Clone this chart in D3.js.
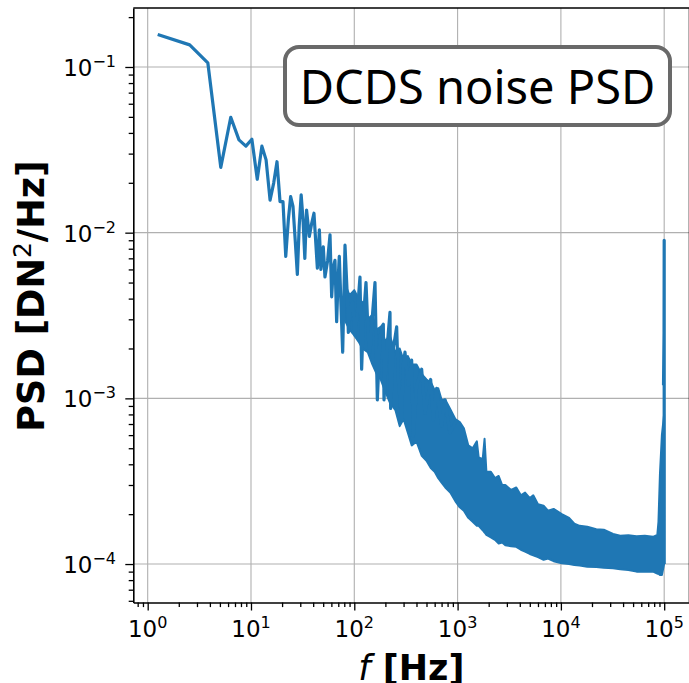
<!DOCTYPE html>
<html>
  <head>
    <meta charset="utf-8">
    <title>DCDS noise PSD</title>
  </head>

  <style>
    body { margin: 0; background: #fff; }
    text { font-family: "DejaVu Sans"; }
  </style>

  <body>
    <script src="https://cdn.jsdelivr.net/npm/d3@7"></script>
    <script>

      // low / mid frequency trace (Hz, DN^2/Hz)
      var lineF = [1.25, 2.55, 3.82, 5.10, 6.37, 7.65, 8.92, 10.2, 11.5, 12.75, 14.0, 15.3, 16.6, 17.85, 19.1, 20.4,
        21.7, 23.0, 24.2, 25.5, 26.8, 28.1, 29.3, 30.6, 31.9, 33.2, 34.5, 36.7, 38.7, 40.7, 43.9, 45.9, 47.5, 50.1,
        52.0, 55.2, 58.2, 60.4, 62.7, 65.0, 67.5, 69.5, 71.6, 74.5, 77.2, 81.3, 85.6, 87.6, 92.2, 96.4, 101.6, 107,
        113.5, 117.8, 122.3, 129.8, 136.7, 141.9, 150.6, 158.6, 167.1, 177.3, 184, 191, 193.9, 205.8, 221.6, 224.9,
        238.7, 257.1, 266.8, 287.3, 298.2, 309.5, 333.5, 359.3, 372.9, 401.7, 448.9, 483.5, 548.6, 582.3, 627.3,
        701.2, 755.1, 844, 979.5];
      var lineP = [0.157, 0.136, 0.106, 0.0248, 0.0497, 0.0363, 0.0333, 0.0366, 0.021, 0.0333, 0.0275, 0.0157, 0.020,
        0.0268, 0.0154, 0.0154, 0.0072, 0.012, 0.0165, 0.0144, 0.009, 0.0056, 0.011, 0.0169, 0.012, 0.0070, 0.0137,
        0.0095, 0.0114, 0.0131, 0.0061, 0.0104, 0.0060, 0.0082, 0.0054, 0.0068, 0.0097, 0.0041, 0.0062, 0.0068,
        0.0029, 0.0050, 0.0072, 0.0035, 0.0019, 0.0084, 0.0041, 0.0025, 0.0036, 0.0038, 0.0024, 0.0033, 0.0054,
        0.0015, 0.0030, 0.0050, 0.0023, 0.0019, 0.0033, 0.0050, 0.00098, 0.0023, 0.0027, 0.0028, 0.00098, 0.0019,
        0.0033, 0.00087, 0.0020, 0.0027, 0.0013, 0.00074, 0.0016, 0.0019, 0.0012, 0.0017, 0.00059, 0.0012, 0.0015,
        0.00081, 0.0013, 0.00074, 0.00115, 0.00068, 0.00098, 0.00062, 0.00074];

      // dense noise band: upper and lower envelope
      var bandF = [80, 90, 100, 110, 120, 135, 150, 165, 180, 200, 220, 250, 275, 300, 330, 360, 400, 450, 500, 550,
        600, 650, 700, 760, 850, 950, 1050, 1150, 1270, 1400, 1536, 1600, 1750, 1824, 1900, 2100, 2300, 2500, 2700,
        2900, 3300, 3700, 4100, 4500, 5000, 5400, 6000, 6800, 7500, 8500, 10200, 12000, 13500, 15200, 18000, 22000,
        26000, 32000, 37500, 45000, 54000, 65000, 78000, 85800, 88000, 91000, 95000, 99800];
      var bandHi = [0.0050, 0.0042, 0.0045, 0.0040, 0.0038, 0.0030, 0.0032, 0.0026, 0.0027, 0.0022, 0.0024, 0.0019,
        0.0020, 0.0017, 0.0018, 0.0016, 0.0016, 0.0014, 0.0013, 0.00125, 0.00112, 0.00115, 0.00098, 0.00098, 0.00086,
        0.00075, 0.00072, 0.00066, 0.00052, 0.00050, 0.00055, 0.00044, 0.00043, 0.00057, 0.00036, 0.00036, 0.00033,
        0.00034, 0.00030, 0.00030, 0.00028, 0.00029, 0.00026, 0.00027, 0.00025, 0.00026, 0.00023, 0.000225, 0.00021,
        0.000215, 0.0002, 0.00019, 0.000175, 0.00017, 0.000168, 0.000162, 0.000161, 0.000152, 0.000148, 0.000149,
        0.000147, 0.000148, 0.000146, 0.00015, 0.00018, 0.00035, 0.0006, 0.0008];
      var bandLo = [0.0030, 0.0026, 0.0024, 0.0022, 0.0020, 0.0019, 0.0016, 0.0014, 0.0013, 0.0011, 0.00095, 0.00085,
        0.00068, 0.00075, 0.00062, 0.00052, 0.00055, 0.00045, 0.00042, 0.00038, 0.00036, 0.00033, 0.00031, 0.00029,
        0.00027, 0.00024, 0.00022, 0.00021, 0.00019, 0.00018, 0.00017, 0.00017, 0.00016, 0.000155, 0.00015, 0.000145,
        0.00014, 0.000133, 0.000135, 0.00013, 0.000128, 0.000127, 0.000122, 0.000119, 0.000115, 0.000113, 0.00011,
        0.000106, 0.000108, 0.000104, 0.000101, 0.0001, 0.0000986, 0.000098, 0.0000964, 0.000096, 0.000095, 0.0000942,
        0.000093, 0.000092, 0.00009, 0.00009, 0.00009, 0.0000875, 0.0000875, 0.0000859, 0.0000859, 0.0001];

      // spike at the Nyquist frequency
      var tailF = [98500, 99700, 100000, 100000];
      var tailP = [0.0012, 0.0025, 0.009, 0.0001];

      var xTicks = [1, 10, 100, 1000, 10000, 100000];
      var xTickExp = ["0", "1", "2", "3", "4", "5"];
      var yTicks = [1e-1, 1e-2, 1e-3, 1e-4];
      var yTickExp = ["\u22121", "\u22122", "\u22123", "\u22124"];

      var titleText = "DCDS noise PSD";

      var width = 689,
        height = 683;
      // plot area edges (note: "top" is taken by window.top)
      var pLeft = 133.3, pRight = 689.5, pTop = 8, pBottom = 602.5;
      var blue = "#1f77b4";

      var svg = d3.select("body")
        .append("svg")
        .attr("width", width)
        .attr("height", height);

      var x = d3.scaleLog()
        .domain([0.7256, Math.pow(10, 5.245)])
        .range([pLeft, pRight]);

      var y = d3.scaleLog()
        .domain([5.86e-5, 0.227])
        .range([pBottom, pTop]);

      // minor ticks (2..9 x 10^k) inside the domain
      function minors(scale) {
        var d = scale.domain(), out = [];
        for (var e = -6; e <= 6; e++)
          for (var m = 2; m <= 9; m++) {
            var v = m * Math.pow(10, e);
            if (v >= d[0] && v <= d[1]) out.push(v);
          }
        return out;
      }

      // grid
      svg.append("g").selectAll("line")
        .data(xTicks).enter().append("line")
        .attr("x1", d => x(d)).attr("x2", d => x(d))
        .attr("y1", pTop).attr("y2", pBottom)
        .attr("stroke", "#b0b0b0").attr("stroke-width", 1.1);
      svg.append("g").selectAll("line")
        .data(yTicks).enter().append("line")
        .attr("x1", pLeft).attr("x2", pRight)
        .attr("y1", d => y(d)).attr("y2", d => y(d))
        .attr("stroke", "#b0b0b0").attr("stroke-width", 1.1);

      // noise band
      var band = bandF.map((f, i) => ({ f: f, hi: bandHi[i], lo: bandLo[i] }));
      svg.append("path")
        .datum(band)
        .attr("d", d3.area().x(d => x(d.f)).y0(d => y(d.lo)).y1(d => y(d.hi)))
        .attr("fill", blue)
        .attr("stroke", blue)
        .attr("stroke-width", 2)
        .attr("stroke-linejoin", "round");

      var line = d3.line().x(d => x(d[0])).y(d => y(d[1]));

      svg.append("path")
        .datum(lineF.map((f, i) => [f, lineP[i]]))
        .attr("d", line)
        .attr("fill", "none")
        .attr("stroke", blue)
        .attr("stroke-width", 3.2)
        .attr("stroke-linejoin", "round");

      svg.append("path")
        .datum(tailF.map((f, i) => [f, tailP[i]]))
        .attr("d", line)
        .attr("fill", "none")
        .attr("stroke", blue)
        .attr("stroke-width", 3.2)
        .attr("stroke-linejoin", "round");

      // axes
      var xAxis = svg.append("g").attr("transform", "translate(0," + pBottom + ")");
      xAxis.call(d3.axisBottom(x).tickValues(xTicks).tickSize(8).tickSizeOuter(0).tickFormat(""));
      xAxis.append("g").call(d3.axisBottom(x).tickValues(minors(x)).tickSize(4.6).tickSizeOuter(0).tickFormat(""));

      var yAxis = svg.append("g").attr("transform", "translate(" + pLeft + ",0)");
      yAxis.call(d3.axisLeft(y).tickValues(yTicks).tickSize(8).tickSizeOuter(0).tickFormat(""));
      yAxis.append("g").call(d3.axisLeft(y).tickValues(minors(y)).tickSize(4.6).tickSizeOuter(0).tickFormat(""));

      svg.selectAll(".domain").attr("stroke", "#000").attr("stroke-width", 1.6);
      svg.selectAll(".tick line").attr("stroke", "#000").attr("stroke-width", 1.3);
      // only one copy of each spine
      xAxis.select("g .domain").remove();
      yAxis.select("g .domain").remove();

      // top spine (right one falls off the edge)
      svg.append("line")
        .attr("x1", pLeft).attr("x2", pRight + 2)
        .attr("y1", pTop).attr("y2", pTop)
        .attr("stroke", "#000").attr("stroke-width", 1.6);
      svg.append("line")
        .attr("x1", pRight).attr("x2", pRight)
        .attr("y1", pTop).attr("y2", pBottom)
        .attr("stroke", "#000").attr("stroke-width", 1.6);

      // tick labels, 10^k style
      var xl = svg.append("g").selectAll("text")
        .data(xTicks).enter().append("text")
        .attr("x", d => x(d))
        .attr("y", 637)
        .attr("text-anchor", "middle")
        .attr("font-size", 23);
      xl.append("tspan").text("10");
      xl.append("tspan").attr("dy", -9).attr("font-size", 16).text((d, i) => xTickExp[i]);

      var yl = svg.append("g").selectAll("text")
        .data(yTicks).enter().append("text")
        .attr("x", 116)
        .attr("y", d => y(d) + 9)
        .attr("text-anchor", "end")
        .attr("font-size", 23);
      yl.append("tspan").text("10");
      yl.append("tspan").attr("dy", -9).attr("font-size", 16).text((d, i) => yTickExp[i]);

      // axis titles
      var yt = svg.append("text")
        .attr("transform", "translate(44,296) rotate(-90)")
        .attr("text-anchor", "middle")
        .attr("font-size", 36.5)
        .attr("font-weight", "bold");
      yt.append("tspan").text("PSD [DN");
      yt.append("tspan").attr("dy", -13).attr("font-size", 25).attr("font-weight", "normal").text("2");
      yt.append("tspan").attr("dy", 13).text("/Hz]");

      var xt = svg.append("text")
        .attr("x", (pLeft + pRight) / 2)
        .attr("y", 680)
        .attr("text-anchor", "middle")
        .attr("font-size", 35);
      xt.append("tspan").attr("font-style", "italic").text("f");
      xt.append("tspan").attr("font-weight", "bold").text(" [Hz]");

      // title box
      svg.append("rect")
        .attr("x", 285).attr("y", 47)
        .attr("width", 385).attr("height", 78)
        .attr("rx", 14).attr("ry", 14)
        .attr("fill", "#fff")
        .attr("stroke", "#696969")
        .attr("stroke-width", 4);

      svg.append("text")
        .attr("x", 477.5)
        .attr("y", 104)
        .attr("text-anchor", "middle")
        .style("font-family", "'Noto Sans'")
        .attr("font-size", 47)
        .text(titleText);

    </script>
  </body>
</html>
